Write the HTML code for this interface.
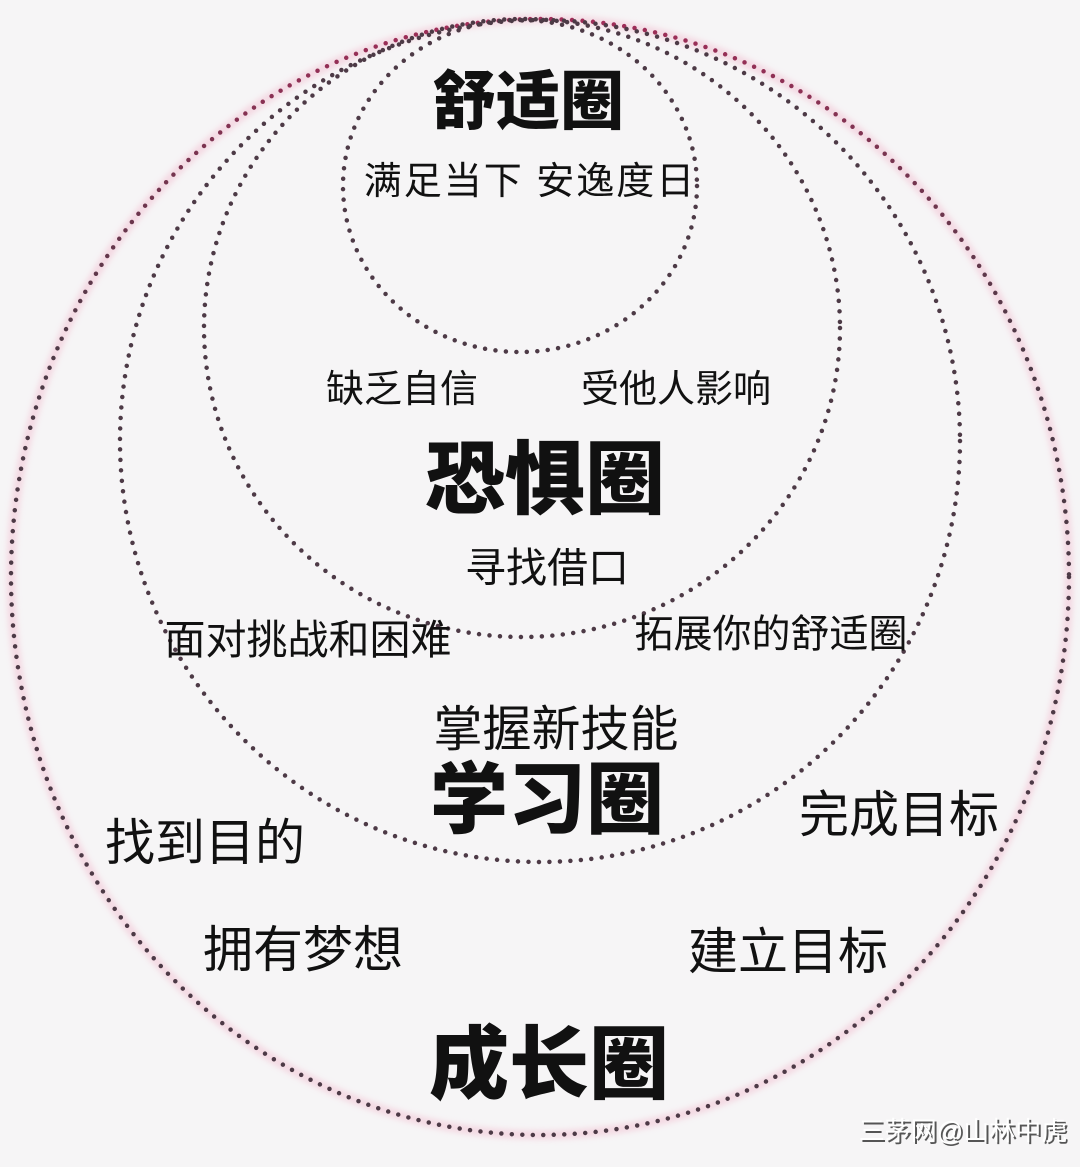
<!DOCTYPE html>
<html><head><meta charset="utf-8"><style>
html,body{margin:0;padding:0;background:#f6f5f6;}
svg{display:block}
text{font-family:"Liberation Sans","Noto Sans CJK SC",sans-serif;fill:#111;text-anchor:middle;dominant-baseline:central}
.b{font-weight:900}
</style></head><body>
<svg width="1080" height="1167" viewBox="0 0 1080 1167" xmlns="http://www.w3.org/2000/svg">
<rect width="1080" height="1167" fill="#f6f5f6"/>
<defs>
<filter id="g" x="-10%" y="-10%" width="120%" height="120%"><feGaussianBlur stdDeviation="3"/></filter>
<linearGradient id="lg" x1="0" y1="0" x2="0" y2="1">
<stop offset="0" stop-color="#a02d58"/><stop offset="0.12" stop-color="#7a3450"/><stop offset="0.3" stop-color="#4d3a46"/><stop offset="1" stop-color="#4d3a46"/>
</linearGradient>
</defs>
<g fill="none" stroke="#f3c6d6" stroke-width="9" opacity="0.6" filter="url(#g)">
<ellipse cx="540" cy="577" rx="529" ry="558"/>
</g>
<g fill="none" stroke="#4d3a46" stroke-width="4.5" stroke-linecap="round" stroke-dasharray="0 10.5">
<ellipse cx="540" cy="577" rx="529" ry="558" stroke="url(#lg)"/>
<ellipse cx="540" cy="441" rx="420" ry="421"/>
<ellipse cx="522" cy="328" rx="318" ry="309"/>
<ellipse cx="520" cy="186" rx="177" ry="166"/>
</g>
<text class="b" x="528" y="102" font-size="64">舒适圈</text>
<text x="530" y="182" font-size="38" letter-spacing="2">满足当下 安逸度日</text>
<text x="402" y="390" font-size="38">缺乏自信</text>
<text x="676" y="390" font-size="38">受他人影响</text>
<text class="b" x="545" y="480" font-size="80">恐惧圈</text>
<text x="547" y="568" font-size="41">寻找借口</text>
<text x="308" y="640" font-size="41">面对挑战和困难</text>
<text x="771" y="635" font-size="39">拓展你的舒适圈</text>
<text x="556" y="730" font-size="49">掌握新技能</text>
<text class="b" x="547" y="800" font-size="78">学习圈</text>
<text x="899" y="815" font-size="50">完成目标</text>
<text x="205" y="843" font-size="50">找到目的</text>
<text x="303" y="950" font-size="50">拥有梦想</text>
<text x="788" y="952" font-size="50">建立目标</text>
<text class="b" x="549" y="1065" font-size="80">成长圈</text>
<text x="965" y="1133" font-size="26" style="fill:#555">三茅网@山林中虎</text>
<text x="963" y="1131" font-size="26" style="fill:#fff">三茅网@山林中虎</text>
</svg>
</body></html>
